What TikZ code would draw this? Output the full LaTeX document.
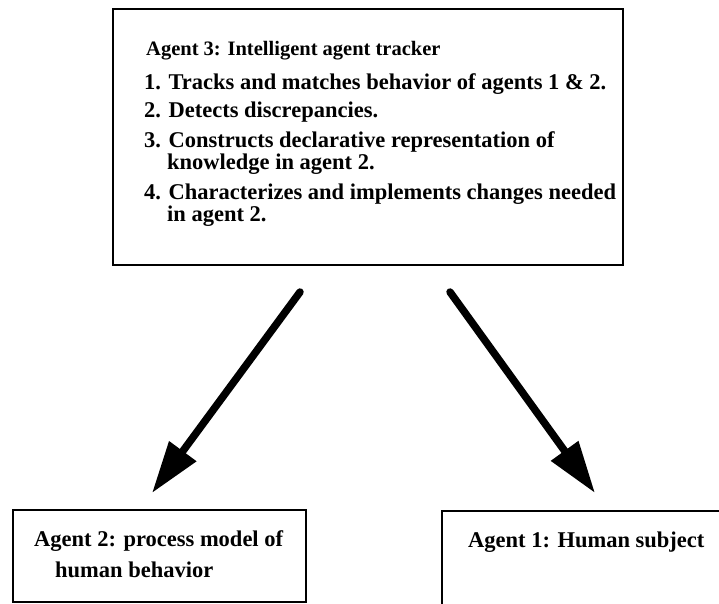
\documentclass[tikz,border=0pt]{standalone}
\usepackage{fontspec}
\setmainfont{Liberation Serif}
\usetikzlibrary{arrows.meta}
\begin{document}
\begin{tikzpicture}[x=1pt,y=-1pt,
  box/.style={draw=black,line width=2.6pt,inner sep=0pt,outer sep=0pt,anchor=north west},
  txt/.style={anchor=base west,inner sep=0pt,font=\fontsize{22.5}{22.5}\selectfont\bfseries},
  head/.style={txt,font=\fontsize{20.5}{20.5}\selectfont\bfseries},
  bigarrow/.style={line width=7.5pt,line cap=round,-{Triangle[length=52pt,width=32pt]}}]
\useasboundingbox (0,0) rectangle (719,603);
\clip (0,0) rectangle (719,603);

% Agent 3 box and its list
\node[box,minimum width=510pt,minimum height=256pt] (tracker) at (113,9) {};
\node[head] (t0) at (146,55) {Agent 3: Intelligent agent tracker};
\node[txt] (t1) at (144,89) {1. Tracks and matches behavior of agents 1 \& 2.};
\node[txt] (t2) at (144,117) {2. Detects discrepancies.};
\node[txt] (t3) at (144,147) {3. Constructs declarative representation of};
\node[txt] (t3b) at (167,169) {knowledge in agent 2.};
\node[txt] (t4) at (144,199) {4. Characterizes and implements changes needed};
\node[txt] (t4b) at (167,221) {in agent 2.};

% Agent 2 box
\node[box,minimum width=293pt,minimum height=92pt] (model) at (13,510) {};
\node[txt] (m1) at (34,546) {Agent 2: process model of};
\node[txt] (m2) at (55,577) {human behavior};

% Agent 1 box (runs past the edge)
\node[box,minimum width=300pt,minimum height=120pt] (human) at (442,511) {};
\node[txt] (h1) at (468,547) {Agent 1: Human subject};

% arrows
\coordinate (la) at (300,292);
\coordinate (lb) at (152,493);
\coordinate (ra) at (450,292);
\coordinate (rb) at (595,493);
\draw[bigarrow] (la) -- (lb);
\draw[bigarrow] (ra) -- (rb);
\end{tikzpicture}
\end{document}
